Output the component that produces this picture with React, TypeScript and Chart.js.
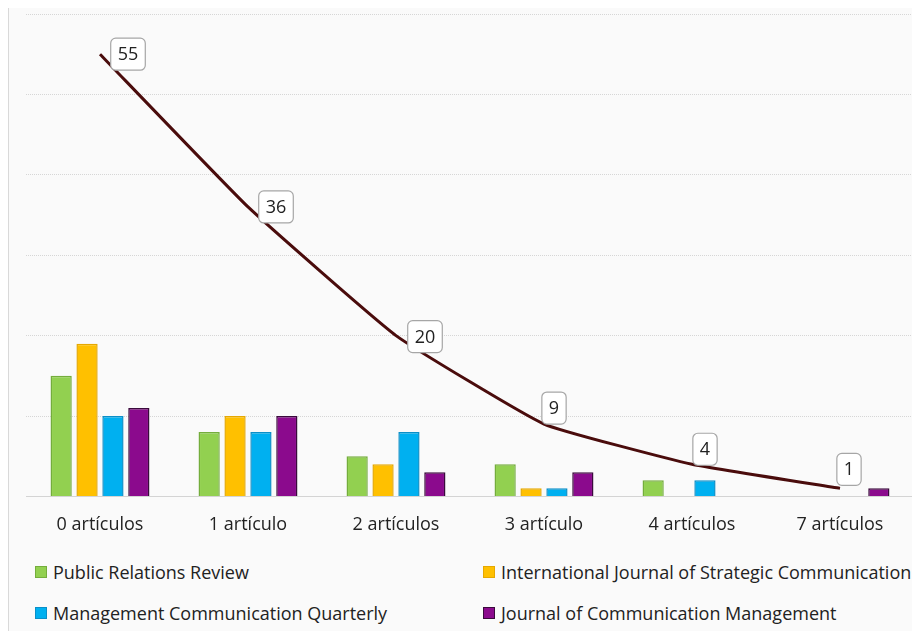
import React, { useEffect, useRef } from "react";
import { Chart, registerables } from "chart.js";

Chart.register(...registerables);

const categories = ["0 artículos", "1 artículo", "2 artículos", "3 artículo", "4 artículos", "7 artículos"];
const journals = [
  "Public Relations Review",
  "International Journal of Strategic Communication",
  "Management Communication Quarterly",
  "Journal of Communication Management",
];
const publicRelationsReview = [15, 8, 5, 4, 2, 0];
const intJournalStrategicComm = [19, 10, 4, 1, 0, 0];
const managementCommQuarterly = [10, 8, 8, 1, 2, 0];
const journalCommManagement = [11, 10, 3, 3, 0, 1];
const totals = [55, 36, 20, 9, 4, 1];

const FONT = "'Open Sans', 'Liberation Sans', sans-serif";
const fills = ["#92d050", "#ffc000", "#00b0f0", "#8b0a8d"];
const edges = ["#74ad3c", "#e6a800", "#0a8fc8", "#3a0a3c"];

// where each total's box sits relative to its point
const boxShift: [number, number][] = [
  [28, 0],
  [28, 0],
  [29, 1],
  [10, -16],
  [13, -15],
  [9, -19],
];

const totalLabels = {
  id: "totalLabels",
  afterDatasetsDraw(chart: Chart) {
    const idx = chart.data.datasets.findIndex((d: any) => d.type === "line");
    if (idx < 0) return;
    const meta = chart.getDatasetMeta(idx);
    const ctx = chart.ctx;
    ctx.save();
    ctx.font = `18px ${FONT}`;
    ctx.textAlign = "center";
    ctx.textBaseline = "middle";
    meta.data.forEach((pt: any, i: number) => {
      const txt = String(totals[i]);
      const w = ctx.measureText(txt).width + 14;
      const h = 32;
      const [dx, dy] = boxShift[i] || [0, -20];
      const cx = pt.x + dx;
      const cy = pt.y + dy;
      ctx.beginPath();
      ctx.roundRect(cx - w / 2, cy - h / 2, w, h, 5);
      ctx.fillStyle = "#ffffff";
      ctx.fill();
      ctx.lineWidth = 1.2;
      ctx.strokeStyle = "#a6a6a6";
      ctx.stroke();
      ctx.fillStyle = "#222222";
      ctx.fillText(txt, cx, cy + 1);
    });
    ctx.restore();
  },
};

export default function App() {
  const ref = useRef<HTMLCanvasElement>(null);

  useEffect(() => {
    if (!ref.current) return;
    const series = [publicRelationsReview, intJournalStrategicComm, managementCommQuarterly, journalCommManagement];
    const chart = new Chart(ref.current, {
      type: "bar",
      data: {
        labels: categories,
        datasets: [
          {
            type: "line",
            label: "Total",
            data: totals,
            borderColor: "#4a0c0c",
            borderWidth: 3,
            pointRadius: 0,
            tension: 0.12,
            order: 0,
          } as any,
          ...series.map((vals, i) => ({
            type: "bar" as const,
            label: journals[i],
            data: vals,
            backgroundColor: fills[i],
            borderColor: edges[i],
            borderWidth: 1.5,
            categoryPercentage: 0.7,
            barPercentage: 0.82,
            order: 1,
          })),
        ],
      },
      options: {
        animation: false,
        responsive: false,
        maintainAspectRatio: false,
        layout: { padding: { left: 17, right: 6, top: 6, bottom: 1 } },
        plugins: { legend: { display: false }, tooltip: { enabled: false } },
        scales: {
          x: {
            grid: { display: false, drawTicks: false },
            border: { display: true, color: "#d4d4d4", width: 1 },
            ticks: { color: "#222222", font: { family: FONT, size: 18 }, padding: 18 },
          },
          y: {
            min: 0,
            max: 60,
            ticks: { display: false, stepSize: 10 },
            grid: { color: "#d6d6d6", lineWidth: 1, drawTicks: false },
            border: { display: false, dash: [1, 1] },
          },
        },
      },
      plugins: [totalLabels],
    });
    return () => chart.destroy();
  }, []);

  const legendItem = (i: number) => (
    <div style={{ display: "flex", alignItems: "center" }}>
      <span
        style={{
          display: "inline-block",
          width: 10,
          height: 10,
          background: fills[i],
          border: `1px solid ${edges[i]}`,
          marginRight: 6,
        }}
      />
      <span>{journals[i]}</span>
    </div>
  );

  return (
    <div
      style={{
        position: "relative",
        width: 911,
        height: 623,
        background: "#fafafa",
        borderLeft: "1px solid #d9d9d9",
        fontFamily: FONT,
        color: "#222222",
        fontSize: 18,
      }}
    >
      <canvas ref={ref} width={911} height={547} style={{ position: "absolute", left: 0, top: 0 }} />
      <div style={{ position: "absolute", left: 26, top: 552 }}>{legendItem(0)}</div>
      <div style={{ position: "absolute", left: 474, top: 552 }}>{legendItem(1)}</div>
      <div style={{ position: "absolute", left: 26, top: 593 }}>{legendItem(2)}</div>
      <div style={{ position: "absolute", left: 474, top: 593 }}>{legendItem(3)}</div>
    </div>
  );
}
